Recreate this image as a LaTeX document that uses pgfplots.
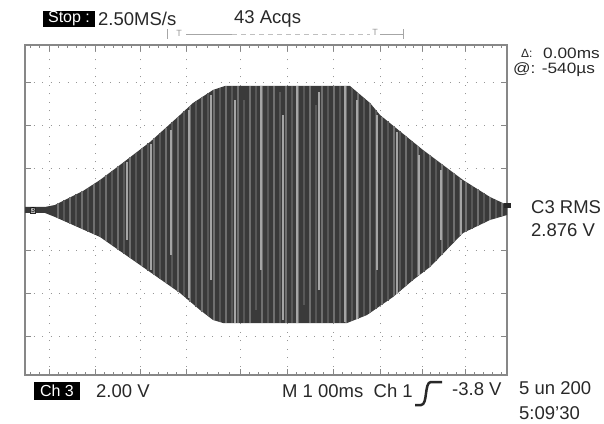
\documentclass[border=0pt]{standalone}
\usepackage{fontspec}
\setmainfont{Liberation Sans}
\usepackage{pgfplots}
\pgfplotsset{compat=1.18}
\usepgfplotslibrary{fillbetween}
\definecolor{scopetext}{RGB}{40,40,40}
\definecolor{wavebase}{RGB}{58,58,58}
\definecolor{stripeA}{RGB}{112,112,112}
\definecolor{stripeB}{RGB}{88,88,88}
\definecolor{stripeC}{RGB}{165,165,165}
\definecolor{framecol}{RGB}{135,135,135}
\definecolor{gridcol}{RGB}{150,150,150}
\newcommand\scopefont{\fontsize{18.5pt}{20pt}\selectfont}
\begin{document}
\begin{tikzpicture}
\path (0pt,0pt) rectangle (604pt,423pt);
\begin{axis}[
  at={(25pt,48pt)}, anchor=south west,
  width=482pt, height=330pt, scale only axis,
  xmin=25, xmax=507, ymin=-165, ymax=165,
  xtick={49,95,140,186,240,287,333,380,422,465},
  ytick={-126,-83,-41,0,41,84,127},
  minor xtick={30.6,39.8,58.2,67.4,76.6,85.8,104,113,122,131,149.2,158.4,167.6,176.8,196.8,207.6,218.4,229.2,249.4,258.8,268.2,277.6,296.2,305.4,314.6,323.8,342.4,351.8,361.2,370.6,388.4,396.8,405.2,413.6,430.6,439.2,447.8,456.4,474,483,492,501},
  minor y tick num=4,
  xticklabels={}, yticklabels={},
  tick pos=both, tick align=inside,
  major tick length=6pt, minor tick length=3.5pt,
  grid=major,
  major grid style={draw=gridcol, line width=1pt, dash pattern=on 1pt off 7.5pt},
  axis line style={draw=framecol, line width=2pt},
  major tick style={draw=framecol, line width=1pt},
  minor tick style={draw=framecol, line width=0.9pt},
]
% envelope of the burst
\addplot[name path=top, draw=none] coordinates {(25,3)(45,3)(55,5)(67,11)(83,19)(100,30)(120,45)(150,68)(180,95)(193,107)(213,120)(225,124)(350,124)(370,107)(380,95)(423,60)(463,30)(490,13)(507,5)};
\addplot[name path=bot, draw=none] coordinates {(25,-3)(45,-3)(55,-7)(100,-27)(120,-41)(150,-62)(180,-83)(200,-100)(213,-110)(223,-113)(347,-113)(367,-105)(393,-87)(413,-70)(430,-57)(463,-23)(490,-10)(507,-5)};
\addplot[wavebase] fill between[of=top and bot];
% stripes A
\addplot[ycomb, draw=stripeA, line width=1.4pt, mark=none] coordinates {(58,6.5)(70,12.5)(82,18.5)(94,26)(106,34.5)(118,43.5)(130,52.7)(142,61.9)(154,71.6)(166,82.4)(178,93.2)(190,104.2)(202,112.9)(214,120.3)(226,124)(238,124)(250,124)(262,124)(274,124)(286,124)(298,124)(310,124)(322,124)(334,124)(346,124)(358,117.2)(370,107)(382,93.4)(394,83.6)(406,73.8)(418,64.1)(430,54.75)(442,45.75)(454,36.75)(466,28.1)(478,20.6)(490,13)(502,7.4)};
\addplot[ycomb, draw=stripeA, line width=1.4pt, mark=none] coordinates {(58,-8.3)(70,-13.7)(82,-19)(94,-24.3)(106,-31.2)(118,-39.6)(130,-48)(142,-56.4)(154,-64.8)(166,-73.2)(178,-81.6)(190,-91.5)(202,-101.5)(214,-110.3)(226,-113)(238,-113)(250,-113)(262,-113)(274,-113)(286,-113)(298,-113)(310,-113)(322,-113)(334,-113)(346,-113)(358,-108.6)(370,-103)(382,-94.6)(394,-86.2)(406,-75.9)(418,-66.2)(430,-57)(442,-44.6)(454,-32.3)(466,-21.6)(478,-15.8)(490,-10)(502,-6.5)};
% stripes B
\addplot[ycomb, draw=stripeB, line width=1.2pt, mark=none] coordinates {(64,9.5)(76,15.5)(88,22.2)(100,30)(112,39)(124,48)(136,57.3)(148,66.5)(160,77)(172,87.8)(184,98.7)(196,109)(208,116.8)(220,122.3)(232,124)(244,110)(256,124)(268,124)(280,118)(292,124)(304,124)(316,105)(328,124)(340,124)(352,122.3)(364,112.1)(376,99.8)(388,88.5)(400,78.7)(412,69)(424,59.25)(436,50.25)(448,41.25)(460,32.25)(472,24.3)(484,16.8)(496,10.2)};
\addplot[ycomb, draw=stripeB, line width=1.2pt, mark=none] coordinates {(64,-11)(76,-16.3)(88,-21.7)(100,-27)(112,-35.4)(124,-43.8)(136,-52.2)(148,-60.6)(160,-69)(172,-77.4)(184,-86.4)(196,-96.6)(208,-106.2)(220,-112.1)(232,-113)(244,-113)(256,-100)(268,-113)(280,-113)(292,-113)(304,-95)(316,-113)(328,-113)(340,-113)(352,-111)(364,-106.2)(376,-98.8)(388,-90.5)(400,-81)(412,-70.9)(424,-61.6)(436,-50.8)(448,-38.5)(460,-26.1)(472,-18.7)(484,-12.9)(496,-8.3)};
% brighter stripes
\addplot[ycomb, draw=stripeC, line width=1.5pt, mark=none] coordinates {(127,48)(151,66)(171,80)(189,100)(211,115)(235,110)(261,124)(283,95)(297,124)(319,118)(345,124)(357,110)(377,95)(397,78)(419,55)(441,40)(461,30)};
\addplot[ycomb, draw=stripeC, line width=1.5pt, mark=none] coordinates {(127,-30)(151,-60)(171,-45)(189,-88)(211,-70)(235,-113)(261,-60)(283,-110)(297,-113)(319,-80)(345,-112)(357,-109)(377,-60)(397,-84)(419,-65)(441,-30)(461,-25)};
\end{axis}
% markers on the graticule edges
\node[fill=gray!55, draw=scopetext, line width=0.5pt, inner sep=0.6pt, font=\fontsize{7pt}{7pt}\selectfont, text=black] at (33pt,213pt) {3};
\fill[scopetext] (504pt,215pt) rectangle (511pt,220pt);
% top status line
\node[fill=black, text=white, inner sep=0pt, minimum width=52pt, minimum height=16pt, font=\fontsize{16pt}{16pt}\selectfont] at (69pt,404pt) {Stop :};
\node[anchor=west, inner sep=0pt, text=scopetext, font=\scopefont] at (98pt,404pt) {2.50MS/s};
\node[anchor=west, inner sep=0pt, text=scopetext, font=\scopefont] at (234pt,404pt) {43 Acqs};
% trigger position bracket
\draw[gray!70, line width=0.7pt] (167pt,384pt) -- (167pt,394pt);
\draw[gray!70, line width=0.7pt] (403pt,384pt) -- (403pt,394pt);
\draw[gray!70, line width=0.7pt] (186pt,389pt) -- (232pt,389pt);
\draw[gray!50, line width=0.7pt, dash pattern=on 5pt off 4pt] (232pt,389pt) -- (370pt,389pt);
\draw[gray!70, line width=0.7pt] (380pt,389pt) -- (403pt,389pt);
\node[inner sep=0pt, text=gray!80, font=\fontsize{9pt}{9pt}\selectfont] at (179pt,390pt) {T};
\node[inner sep=0pt, text=gray!80, font=\fontsize{9pt}{9pt}\selectfont] at (375pt,391pt) {T};
% right side readouts
\node[anchor=west, inner sep=0pt, text=scopetext, font=\fontsize{12pt}{12pt}\selectfont] at (521pt,370pt) {Δ:};
\node[anchor=west, inner sep=0pt, text=scopetext, font=\fontsize{15pt}{15pt}\selectfont] at (543pt,370pt) {\scalebox{1.15}[1]{0.00ms}};
\node[anchor=west, inner sep=0pt, text=scopetext, font=\fontsize{15pt}{15pt}\selectfont] at (513pt,353pt) {\scalebox{1.15}[1]{@: -540µs}};
\node[anchor=west, inner sep=0pt, text=scopetext, font=\scopefont] at (531pt,216pt) {C3 RMS};
\node[anchor=west, inner sep=0pt, text=scopetext, font=\scopefont] at (531pt,193pt) {2.876 V};
% bottom status line
\node[fill=black, text=white, inner sep=0pt, minimum width=46pt, minimum height=18pt, font=\fontsize{16pt}{16pt}\selectfont] at (57pt,32pt) {Ch 3};
\node[anchor=west, inner sep=0pt, text=scopetext, font=\scopefont] at (96pt,32pt) {2.00 V};
\node[anchor=west, inner sep=0pt, text=scopetext, font=\scopefont] at (282pt,32pt) {M 1 00ms\ \ Ch 1};
\draw[scopetext, line width=2.5pt] (415pt,18pt) -- (421pt,18pt) .. controls (428pt,18pt) and (424pt,41pt) .. (431pt,41pt) -- (442pt,41pt);
\node[anchor=west, inner sep=0pt, text=scopetext, font=\scopefont] at (452pt,34pt) {-3.8 V};
\node[anchor=west, inner sep=0pt, text=scopetext, font=\scopefont] at (519pt,35pt) {5 un 200};
\node[anchor=west, inner sep=0pt, text=scopetext, font=\scopefont] at (519pt,10pt) {5:09'30};
\pgfresetboundingbox
\useasboundingbox (0pt,0pt) rectangle (604pt,423pt);
\end{tikzpicture}
\end{document}
